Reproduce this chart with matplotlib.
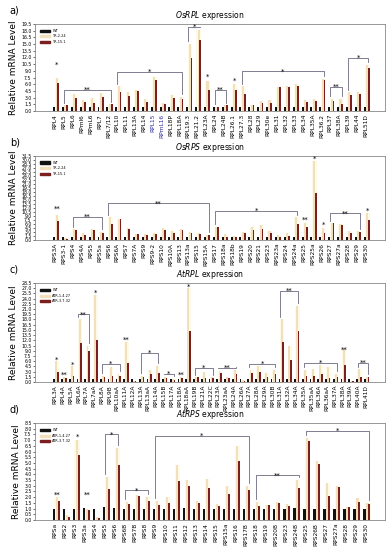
import numpy as np
import matplotlib.pyplot as plt
from matplotlib.patches import Patch

# ---- a) OsRPL ----
a_labels = ["RPL4", "RPL5", "RPL6", "RPml6", "RPmL6", "RPL7", "RPL7/12", "RPL10", "RPL11",
            "RPL13A", "RPL14", "RPL15", "RPmL16", "RPL18P", "RPL18A", "RPL19.3", "RPL21.2",
            "RPL23A", "RPL24", "RPL24B", "RPL26.1", "RPL27.3", "RPL28", "RPL29", "RPL30e",
            "RPL31", "RPL32", "RPL33", "RPL34", "RPL35A", "RPL36.2", "RPL37", "RPL38A",
            "RPL39", "RPL44", "RPL51D"]
a_wt = [1.0] * len(a_labels)
a_tr224 = [7.5, 1.3, 3.8, 2.5, 3.0, 4.0, 1.5, 5.5, 4.2, 4.6, 2.6, 7.6, 1.8, 3.6, 3.2, 15.0, 18.2,
           6.8, 0.9, 1.3, 6.0, 5.5, 1.4, 2.3, 2.5, 5.4, 5.7, 6.0, 2.4, 2.7, 7.2, 2.8, 2.7,
           4.2, 4.3, 10.3]
a_tr151 = [6.2, 1.3, 3.0, 2.0, 1.8, 3.2, 1.5, 4.2, 3.3, 4.5, 2.0, 7.0, 1.5, 2.9, 2.6, 11.8, 16.0,
           4.8, 0.9, 1.3, 4.8, 3.9, 1.4, 1.8, 1.9, 5.4, 5.4, 5.6, 2.1, 2.3, 7.0, 2.2, 1.6,
           3.6, 3.9, 9.7]
a_sig = [("RPL4", "RPL4", 10.3, "*"), ("RPL5", "RPL7/12", 4.8, "**"),
         ("RPL10", "RPL18A", 8.7, "*"), ("RPL19.3", "RPL21.2", 18.9, "*"),
         ("RPL23A", "RPL23A", 7.6, "*"), ("RPL24", "RPL24B", 4.8, "**"),
         ("RPL26.1", "RPL26.1", 6.8, "*"), ("RPL27.3", "RPL36.2", 8.9, "*"),
         ("RPL37", "RPL38A", 5.4, "**"), ("RPL39", "RPL51D", 11.9, "*")]

# ---- b) OsRPS ----
b_labels = ["RPS3A", "RPS3-1", "RPS4", "RPS4A", "RPS5", "RPS5a", "RPS6", "RPS6A", "RPS7",
            "RPS7A", "RPS9", "RPS9-2", "RPS10", "RPS10A", "RPS13", "RPS13a", "RPS15", "RPS15A",
            "RPS17", "RPS18a", "RPS18b", "RPS19", "RPS20", "RPS21", "RPS23", "RPS23a", "RPS24",
            "RPS24a", "RPS25", "RPS25a", "RPS26", "RPS27", "RPS27a", "RPS28", "RPS29", "RPS30"]
b_wt = [1.0] * len(b_labels)
b_tr224 = [9.3, 0.6, 4.0, 2.5, 4.0, 3.0, 8.5, 8.0, 4.4, 2.4, 2.3, 2.6, 4.6, 3.2, 4.2, 3.0, 2.6, 2.0,
           4.8, 2.3, 1.5, 3.0, 5.0, 5.8, 3.2, 1.7, 2.5, 8.5, 6.5, 29.5, 4.6, 6.2, 6.0, 3.4, 3.2, 10.0]
b_tr151 = [7.1, 0.5, 3.6, 2.0, 3.6, 2.5, 5.9, 7.7, 4.2, 2.1, 2.0, 2.4, 3.8, 2.8, 3.6, 2.6, 2.2, 2.0,
           5.0, 1.2, 1.3, 2.8, 3.8, 4.0, 2.5, 1.3, 1.6, 6.0, 4.8, 17.8, 2.8, 6.2, 5.8, 2.8, 3.1, 7.4]
b_sig = [("RPS3A", "RPS3A", 11.6, "**"), ("RPS4", "RPS5a", 8.7, "**"),
         ("RPS6", "RPS15A", 13.7, "**"), ("RPS17", "RPS24a", 10.8, "*"),
         ("RPS25", "RPS25", 7.5, "**"), ("RPS25a", "RPS25a", 30.3, "*"),
         ("RPS26", "RPS26", 5.6, "*"), ("RPS27", "RPS29", 10.0, "**"),
         ("RPS30", "RPS30", 11.0, "*")]

# ---- c) AtRPL ----
c_labels = ["RPL3A", "RPL4A", "RPL5A", "RPL6A", "RPL7A", "RPL7aA", "RPL8A", "RPL9B", "RPL10aA",
            "RPL11A", "RPL12A", "RPL13A", "RPL13aA", "RPL14A", "RPL15B", "RPL17A", "RPL18A",
            "RPL18aA", "RPL19B", "RPL21A", "RPL22C", "RPL23A", "RPL23aA", "RPL24A", "RPL26A",
            "RPL27A", "RPL28A", "RPL29A", "RPL30B", "RPL31A", "RPL32A", "RPL34A", "RPL35A",
            "RPL35aA", "RPL36A", "RPL36aA", "RPL37A", "RPL38A", "RPL39A", "RPL40A", "RPL41D"]
c_wt = [1.0] * len(c_labels)
c_atr1 = [6.0, 1.5, 4.5, 18.0, 10.5, 25.0, 1.8, 4.4, 2.2, 11.5, 0.4, 1.6, 3.4, 4.5, 1.4, 1.0, 1.5,
          27.0, 1.3, 3.0, 1.3, 3.2, 1.3, 3.4, 0.6, 3.4, 4.6, 2.5, 3.5, 18.0, 10.5, 22.0, 3.4,
          3.8, 4.8, 4.2, 2.2, 9.5, 0.3, 3.6, 1.4]
c_atr3 = [2.9, 1.2, 1.6, 11.2, 9.0, 12.2, 1.5, 1.7, 1.7, 5.6, 0.3, 1.5, 2.3, 2.5, 1.2, 0.6, 1.2,
          14.6, 1.3, 1.2, 1.2, 2.5, 1.2, 2.4, 0.3, 2.5, 3.0, 1.5, 2.4, 11.5, 6.2, 14.6, 1.8,
          1.8, 2.2, 1.2, 1.3, 4.9, 0.2, 1.4, 1.3]
c_sig = [("RPL3A", "RPL3A", 6.4, "*"), ("RPL4A", "RPL4A", 2.1, "**"), ("RPL5A", "RPL5A", 5.0, "*"),
         ("RPL6A", "RPL7A", 19.5, "**"), ("RPL7aA", "RPL7aA", 25.6, "*"),
         ("RPL8A", "RPL10aA", 5.2, "*"), ("RPL11A", "RPL11A", 12.3, "**"),
         ("RPL13A", "RPL14A", 8.3, "*"), ("RPL15B", "RPL17A", 2.3, "*"),
         ("RPL18A", "RPL18A", 2.1, "**"), ("RPL18aA", "RPL18aA", 27.5, "*"),
         ("RPL19B", "RPL22C", 4.0, "*"), ("RPL23A", "RPL24A", 4.0, "**"),
         ("RPL27A", "RPL30B", 5.2, "*"), ("RPL31A", "RPL34A", 26.3, "**"),
         ("RPL35A", "RPL37A", 5.6, "*"), ("RPL38A", "RPL38A", 9.3, "**"),
         ("RPL40A", "RPL41D", 5.5, "**")]

# ---- d) AtRPS ----
d_labels = ["RPSa", "RPS2", "RPS3", "RPS3a", "RPS4", "RPS5", "RPS6", "RPS6B", "RPS7B", "RPS8",
            "RPS9", "RPS10", "RPS11", "RPS12", "RPS13", "RPS14", "RPS15", "RPS15a", "RPS16",
            "RPS17B", "RPS18", "RPS19", "RPS20B", "RPS23", "RPS24B", "RPS25", "RPS26B", "RPS27",
            "RPS27a", "RPS28", "RPS29", "RPS30"]
d_wt = [1.0, 1.0, 1.0, 1.05, 1.0, 1.1, 1.05, 1.0, 1.0, 1.0, 1.0, 1.0, 1.0, 1.05, 1.0, 1.0, 0.95,
        0.95, 0.95, 1.0, 1.0, 1.0, 1.0, 1.0, 1.05, 0.95, 0.95, 1.0, 1.0, 1.0, 1.0, 0.95]
d_atr1 = [2.0, 0.4, 7.0, 1.0, 0.3, 3.8, 6.3, 1.6, 2.2, 2.0, 1.7, 2.0, 4.8, 3.5, 1.7, 3.6, 1.4, 3.0,
          6.5, 3.0, 1.6, 1.3, 1.6, 1.4, 3.5, 7.2, 5.2, 3.2, 3.0, 1.1, 1.9, 1.5]
d_atr3 = [1.7, 0.3, 5.7, 0.9, 0.2, 2.7, 4.8, 1.4, 2.1, 1.7, 1.3, 1.5, 3.4, 3.0, 1.5, 2.8, 1.2, 2.3,
          5.2, 2.6, 1.2, 1.3, 1.5, 1.2, 2.8, 6.9, 4.9, 2.1, 2.9, 1.1, 1.6, 1.4]
d_sig = [("RPSa", "RPSa", 2.2, "**"), ("RPS3", "RPS3", 7.3, "*"), ("RPS3a", "RPS3a", 2.2, "**"),
         ("RPS5", "RPS6", 7.5, "*"), ("RPS6B", "RPS8", 2.6, "*"), ("RPS9", "RPS17B", 7.4, "*"),
         ("RPS18", "RPS24B", 3.9, "**"), ("RPS25", "RPS30", 7.8, "*")]

C_WT = "#111111"
C_MID = "#f2e0bc"
C_HI = "#7a1e1e"
C_HALO = "#fefae8"


def panel(ax, labels, wt, mid, hi, ymax, step, sig, names, gene, tag, blue=()):
    x = np.arange(len(labels))
    ax.bar(x + 0.2, mid, 0.55, color=C_HALO, zorder=1)
    ax.bar(x - 0.12, wt, 0.22, color=C_WT, zorder=2)
    ax.bar(x + 0.16, mid, 0.24, color=C_MID, zorder=2)
    ax.bar(x + 0.36, hi, 0.2, color=C_HI, zorder=3)
    n = len(labels) - 1
    ax.set_xlim(-0.065 * n, n * 1.062)
    ax.set_ylim(0, ymax)
    ticks = np.arange(0, ymax + 0.01, step)
    ax.set_yticks(ticks)
    ax.set_yticklabels(["%.1f" % v for v in ticks], fontsize=3.3)
    ax.set_xticks(x)
    ax.set_xticklabels(labels, rotation=90, fontsize=4.2)
    for t in ax.get_xticklabels():
        if t.get_text() in blue:
            t.set_color("#2a2a9a")
    ax.tick_params(axis="x", length=0, pad=2)
    ax.tick_params(axis="y", length=1.5, width=0.4, pad=1)
    for s in ax.spines.values():
        s.set_color("#888888")
        s.set_linewidth(0.6)
    ax.set_ylabel("Relative mRNA Level", fontsize=6.5, labelpad=2)
    ax.set_title(r"$\mathit{%s}$ expression" % gene, fontsize=5.5, pad=4)
    for a, b, y, txt in sig:
        i0, i1 = labels.index(a), labels.index(b)
        if i0 == i1:
            ax.text(i0 + 0.2, y, txt, ha="center", va="center", fontsize=5, zorder=5)
            continue
        x0, x1 = i0, i1 + 0.3
        ax.plot([x0, x0, x1, x1], [max(mid[i0], hi[i0]) + 0.03 * ymax, y, y,
                                   max(mid[i1], hi[i1]) + 0.03 * ymax],
                color="#6a6a80", lw=0.6, zorder=4)
        ax.text((x0 + x1) / 2, y, txt, ha="center", va="center", fontsize=5, zorder=5)
    handles = [Patch(color=C_WT), Patch(color=C_MID), Patch(color=C_HI)]
    ax.legend(handles, names, loc="upper left", bbox_to_anchor=(0.01, 0.96), fontsize=2.5,
              frameon=False, handlelength=3.0, handleheight=0.6, handletextpad=0.6,
              labelspacing=0.45, borderaxespad=0)
    ax.figure.text(0.025, ax.get_position().y1 + 0.015, tag, fontsize=7, va="bottom")


fig = plt.figure(figsize=(3.9, 5.5), dpi=100)
W, H = 390.0, 550.0


def box(top, bottom):
    return [35 / W, 1 - bottom / H, 350 / W, (bottom - top) / H]


ax1 = fig.add_axes(box(24, 111))
ax2 = fig.add_axes(box(156, 240))
ax3 = fig.add_axes(box(283, 382))
ax4 = fig.add_axes(box(423, 520))

panel(ax1, a_labels, a_wt, a_tr224, a_tr151, 19.5, 1.5, a_sig, ["WT", "TR-2.24", "TR-15.1"],
      "OsRPL", "a)", blue=("RPL15", "RPmL16"))
panel(ax2, b_labels, b_wt, b_tr224, b_tr151, 31.5, 1.5, b_sig, ["WT", "TR-2.24", "TR-15.1"],
      "OsRPS", "b)")
panel(ax3, c_labels, c_wt, c_atr1, c_atr3, 28.5, 1.5, c_sig, ["WT", "ATR-1.4.27", "ATR-3.7.32"],
      "AtRPL", "c)")
panel(ax4, d_labels, d_wt, d_atr1, d_atr3, 8.5, 0.5, d_sig, ["WT", "ATR-1.4.27", "ATR-3.7.32"],
      "AtRPS", "d)")

fig.savefig("out.png", dpi=100)
